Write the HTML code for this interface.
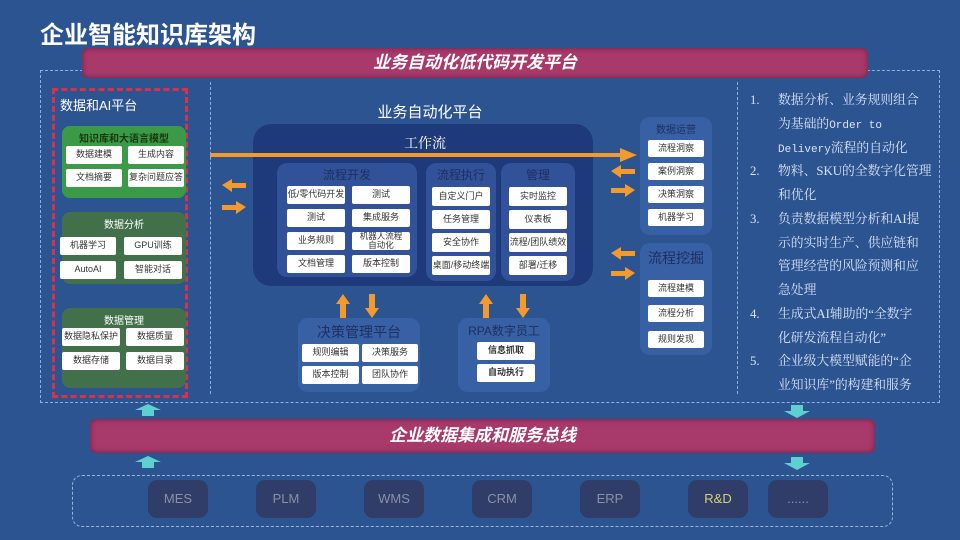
<!DOCTYPE html>
<html><head><meta charset="utf-8"><style>
*{margin:0;padding:0;box-sizing:border-box}
body{width:960px;height:540px;overflow:hidden;background:#2c5491;font-family:"Liberation Sans","Noto Sans CJK SC",sans-serif;position:relative;color:#fff}
.a{position:absolute}
.cell{position:absolute;background:#fff;color:#333;font-size:9px;text-align:center;border-radius:2px;display:flex;align-items:center;justify-content:center;line-height:1.05}
.panel{position:absolute;background:rgba(70,110,190,0.45);border-radius:10px}
.ph{position:absolute;text-align:center;color:#1d3060;font-size:12px}
.bar{position:absolute;background:#a8396b;border-radius:6px;box-shadow:inset 0 0 6px rgba(60,0,30,.5);font-style:italic;font-weight:bold;text-align:center;color:#fff}
.cyl{position:absolute;width:60px;height:38px;background:#2f3d68;border-radius:9px;color:#8a90a8;font-size:13px;text-align:center;line-height:38px}
.rt{position:absolute;left:750px;top:89px;width:190px;font-family:'Liberation Serif','Noto Serif CJK SC',serif;font-size:12.8px;line-height:23.75px;color:#d8e2f4;white-space:nowrap}
.rt .n{position:absolute;left:0}
.rt .t{position:absolute;left:28px}
.m{font-family:'Liberation Mono',monospace;font-size:11px}
</style></head><body>
<div class="a" style="left:40px;top:15px;font-size:24px;font-weight:bold">企业智能知识库架构</div>

<div class="a" style="left:40px;top:70px;width:900px;height:333px;border:1.5px dashed #8fb0e0"></div>
<div class="a" style="left:210px;top:82px;height:312px;border-left:1.5px dashed #8fb0e0"></div>
<div class="a" style="left:737px;top:82px;height:312px;border-left:1.5px dashed #8fb0e0"></div>

<div class="bar" style="left:82px;top:48px;width:786px;height:30px;font-size:17px;line-height:30px">业务自动化低代码开发平台</div>

<div class="a" style="left:52px;top:88px;width:136px;height:310px;border:3px dashed #d8324a"></div>
<div class="a" style="left:60px;top:95px;font-size:13px">数据和AI平台</div>

<div class="a" style="left:62px;top:126px;width:124px;height:72px;background:#3b9a48;border-radius:8px"></div>
<div class="a" style="left:62px;top:130px;width:124px;text-align:center;font-size:10px;color:#1a3a10;font-weight:bold">知识库和大语言模型</div>
<div class="cell" style="left:66px;top:146px;width:56px;height:18px">数据建模</div>
<div class="cell" style="left:128px;top:146px;width:56px;height:18px">生成内容</div>
<div class="cell" style="left:66px;top:169px;width:56px;height:18px">文档摘要</div>
<div class="cell" style="left:128px;top:169px;width:56px;height:18px">复杂问题应答</div>

<div class="a" style="left:62px;top:212px;width:124px;height:72px;background:#42704a;border-radius:8px"></div>
<div class="a" style="left:62px;top:216px;width:124px;text-align:center;font-size:10px">数据分析</div>
<div class="cell" style="left:60px;top:237px;width:56px;height:18px">机器学习</div>
<div class="cell" style="left:124px;top:237px;width:58px;height:18px">GPU训练</div>
<div class="cell" style="left:60px;top:261px;width:56px;height:18px">AutoAI</div>
<div class="cell" style="left:124px;top:261px;width:58px;height:18px">智能对话</div>

<div class="a" style="left:62px;top:308px;width:124px;height:80px;background:#42704a;border-radius:8px"></div>
<div class="a" style="left:62px;top:312px;width:124px;text-align:center;font-size:10px">数据管理</div>
<div class="cell" style="left:62px;top:328px;width:58px;height:18px">数据隐私保护</div>
<div class="cell" style="left:126px;top:328px;width:58px;height:18px">数据质量</div>
<div class="cell" style="left:62px;top:352px;width:58px;height:18px">数据存储</div>
<div class="cell" style="left:126px;top:352px;width:58px;height:18px">数据目录</div>

<div class="a" style="left:330px;top:101px;width:200px;text-align:center;font-size:15px">业务自动化平台</div>
<div class="a" style="left:253px;top:124px;width:340px;height:162px;background:#1f3a7a;border-radius:18px"></div>
<div class="a" style="left:380px;top:133px;width:90px;text-align:center;font-size:14px;font-family:'Liberation Serif','Noto Serif CJK SC',serif">工作流</div>
<svg class="a" style="left:0;top:0" width="960" height="540">
<g fill="#f39a2e">
<rect x="210" y="153" width="412" height="4"/><polygon points="620,148 637,155 620,162"/>
<polygon points="222,185 232,179 232,183 246,183 246,188 232,188 232,192"/>
<polygon points="246,207 236,201 236,205 222,205 222,210 236,210 236,214"/>
<polygon points="611,171 621,165 621,169 635,169 635,174 621,174 621,178"/>
<polygon points="635,190 625,184 625,188 611,188 611,193 625,193 625,197"/>
<polygon points="611,253 621,247 621,251 635,251 635,256 621,256 621,260"/>
<polygon points="635,273 625,267 625,271 611,271 611,276 625,276 625,280"/>
<polygon points="343,294 350,304 346,304 346,318 340,318 340,304 336,304"/>
<polygon points="372,318 379,308 375,308 375,294 369,294 369,308 365,308"/>
<polygon points="486,294 493,304 489,304 489,318 483,318 483,304 479,304"/>
<polygon points="523,318 530,308 526,308 526,294 520,294 520,308 516,308"/>
</g>
</svg>

<div class="panel" style="left:277px;top:163px;width:140px;height:114px"></div>
<div class="ph" style="left:277px;top:166px;width:140px">流程开发</div>
<div class="cell" style="left:287px;top:186px;width:58px;height:18px">低/零代码开发</div>
<div class="cell" style="left:352px;top:186px;width:58px;height:18px">测试</div>
<div class="cell" style="left:287px;top:209px;width:58px;height:18px">测试</div>
<div class="cell" style="left:352px;top:209px;width:58px;height:18px">集成服务</div>
<div class="cell" style="left:287px;top:232px;width:58px;height:18px">业务规则</div>
<div class="cell" style="left:352px;top:232px;width:58px;height:18px;font-size:8.5px">机器人流程<br>自动化</div>
<div class="cell" style="left:287px;top:255px;width:58px;height:18px">文档管理</div>
<div class="cell" style="left:352px;top:255px;width:58px;height:18px">版本控制</div>

<div class="panel" style="left:426px;top:163px;width:70px;height:118px"></div>
<div class="ph" style="left:426px;top:166px;width:70px">流程执行</div>
<div class="cell" style="left:432px;top:187px;width:58px;height:19px">自定义门户</div>
<div class="cell" style="left:432px;top:210px;width:58px;height:19px">任务管理</div>
<div class="cell" style="left:432px;top:233px;width:58px;height:19px">安全协作</div>
<div class="cell" style="left:432px;top:256px;width:58px;height:19px">桌面/移动终端</div>

<div class="panel" style="left:501px;top:163px;width:74px;height:118px"></div>
<div class="ph" style="left:501px;top:166px;width:74px">管理</div>
<div class="cell" style="left:509px;top:187px;width:58px;height:19px">实时监控</div>
<div class="cell" style="left:509px;top:210px;width:58px;height:19px">仪表板</div>
<div class="cell" style="left:509px;top:233px;width:58px;height:19px">流程/团队绩效</div>
<div class="cell" style="left:509px;top:256px;width:58px;height:19px">部署/迁移</div>

<div class="panel" style="left:298px;top:318px;width:122px;height:74px"></div>
<div class="ph" style="left:298px;top:322px;width:122px;font-size:14px">决策管理平台</div>
<div class="cell" style="left:302px;top:344px;width:57px;height:18px">规则编辑</div>
<div class="cell" style="left:362px;top:344px;width:56px;height:18px">决策服务</div>
<div class="cell" style="left:302px;top:366px;width:57px;height:18px">版本控制</div>
<div class="cell" style="left:362px;top:366px;width:56px;height:18px">团队协作</div>

<div class="panel" style="left:458px;top:318px;width:92px;height:74px"></div>
<div class="ph" style="left:458px;top:322px;width:92px;font-size:12px">RPA数字员工</div>
<div class="cell" style="left:477px;top:342px;width:58px;height:18px;font-weight:bold">信息抓取</div>
<div class="cell" style="left:477px;top:364px;width:58px;height:18px;font-weight:bold">自动执行</div>

<div class="panel" style="left:640px;top:117px;width:72px;height:118px"></div>
<div class="ph" style="left:640px;top:121px;width:72px;font-size:10px">数据运营</div>
<div class="cell" style="left:648px;top:140px;width:56px;height:17px">流程洞察</div>
<div class="cell" style="left:648px;top:163px;width:56px;height:17px">案例洞察</div>
<div class="cell" style="left:648px;top:186px;width:56px;height:17px">决策洞察</div>
<div class="cell" style="left:648px;top:209px;width:56px;height:17px">机器学习</div>

<div class="panel" style="left:640px;top:243px;width:72px;height:112px"></div>
<div class="ph" style="left:640px;top:248px;width:72px;font-size:14px">流程挖掘</div>
<div class="cell" style="left:648px;top:280px;width:56px;height:17px">流程建模</div>
<div class="cell" style="left:648px;top:305px;width:56px;height:17px">流程分析</div>
<div class="cell" style="left:648px;top:331px;width:56px;height:17px">规则发现</div>

<div class="rt">
<div class="n" style="top:0">1.</div><div class="t" style="top:0">数据分析、业务规则组合</div>
<div class="t" style="top:23.75px">为基础的<span class="m">Order to</span></div>
<div class="t" style="top:47.5px"><span class="m">Delivery</span>流程的自动化</div>
<div class="n" style="top:71.25px">2.</div><div class="t" style="top:71.25px">物料、SKU的全数字化管理</div>
<div class="t" style="top:95px">和优化</div>
<div class="n" style="top:118.75px">3.</div><div class="t" style="top:118.75px">负责数据模型分析和AI提</div>
<div class="t" style="top:142.5px">示的实时生产、供应链和</div>
<div class="t" style="top:166.25px">管理经营的风险预测和应</div>
<div class="t" style="top:190px">急处理</div>
<div class="n" style="top:213.75px">4.</div><div class="t" style="top:213.75px">生成式AI辅助的“全数字</div>
<div class="t" style="top:237.5px">化研发流程自动化”</div>
<div class="n" style="top:261.25px">5.</div><div class="t" style="top:261.25px">企业级大模型赋能的“企</div>
<div class="t" style="top:285px">业知识库”的构建和服务</div>
</div>

<div class="bar" style="left:90px;top:419px;width:785px;height:34px;font-size:17px;line-height:34px">企业数据集成和服务总线</div>

<svg class="a" style="left:0;top:0" width="960" height="540">
<g fill="#5fd0d0">
<polygon points="148,404 161,410 154,410 154,416 142,416 142,410 135,410"/>
<polygon points="148,456 161,462 154,462 154,468 142,468 142,462 135,462"/>
<polygon points="797,418 810,411 803,411 803,405 791,405 791,411 784,411"/>
<polygon points="797,470 810,463 803,463 803,457 791,457 791,463 784,463"/>
</g>
</svg>

<div class="a" style="left:72px;top:475px;width:821px;height:52px;border:1.5px dashed #9ab4dc;border-radius:10px"></div>
<div class="cyl" style="left:148px;top:480px">MES</div>
<div class="cyl" style="left:256px;top:480px">PLM</div>
<div class="cyl" style="left:364px;top:480px">WMS</div>
<div class="cyl" style="left:472px;top:480px">CRM</div>
<div class="cyl" style="left:580px;top:480px">ERP</div>
<div class="cyl" style="left:688px;top:480px;color:#d8d070">R&amp;D</div>
<div class="cyl" style="left:768px;top:480px">......</div>
</body></html>
